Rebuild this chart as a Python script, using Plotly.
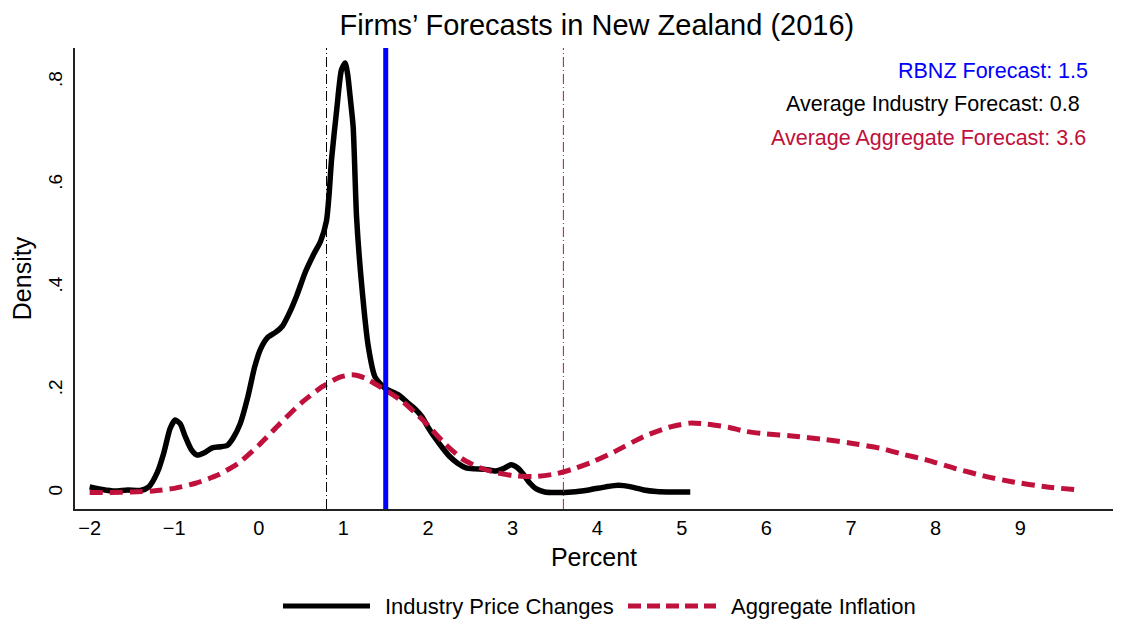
import plotly.graph_objects as go

# Kernel density of firms' industry price-change forecasts (percent)
industry_x = [-2.0, -1.85, -1.7, -1.55, -1.4, -1.3, -1.2, -1.12, -1.05, -0.99, -0.93, -0.87,
              -0.8, -0.73, -0.65, -0.55, -0.45, -0.37, -0.3, -0.22, -0.13, -0.05, 0.02, 0.1,
              0.2, 0.28, 0.36, 0.45, 0.55, 0.65, 0.73, 0.8, 0.83, 0.86, 0.92, 0.976, 1.02,
              1.05, 1.08, 1.115, 1.155, 1.214, 1.294, 1.373, 1.49, 1.65, 1.75, 1.85, 1.93,
              2.0, 2.08, 2.17, 2.25, 2.35, 2.45, 2.55, 2.68, 2.8, 2.9, 2.98, 3.05, 3.12, 3.2,
              3.28, 3.38, 3.5, 3.7, 3.9, 4.1, 4.25, 4.4, 4.55, 4.7, 4.9, 5.1]
industry_y = [0.012, 0.007, 0.004, 0.006, 0.005, 0.012, 0.04, 0.08, 0.125, 0.142, 0.135, 0.11,
              0.085, 0.074, 0.078, 0.088, 0.09, 0.093, 0.108, 0.135, 0.187, 0.245, 0.28, 0.302,
              0.313, 0.325, 0.35, 0.385, 0.43, 0.465, 0.49, 0.53, 0.58, 0.65, 0.745, 0.823, 0.837,
              0.815, 0.77, 0.713, 0.538, 0.408, 0.285, 0.226, 0.204, 0.191, 0.177, 0.163, 0.148,
              0.128, 0.108, 0.088, 0.072, 0.058, 0.049, 0.047, 0.046, 0.043, 0.048, 0.055, 0.05,
              0.038, 0.02, 0.008, 0.002, 0.001, 0.002, 0.006, 0.012, 0.015, 0.012, 0.006, 0.003,
              0.002, 0.002]

# Kernel density of firms' aggregate inflation forecasts (percent)
aggregate_x = [-2.0, -1.75, -1.5, -1.25, -1.0, -0.75, -0.5, -0.25, 0.0, 0.25, 0.5, 0.75, 0.95,
               1.1, 1.25, 1.45, 1.7, 1.95, 2.2, 2.4, 2.6, 2.8, 3.0, 3.25, 3.5, 3.7, 3.95, 4.2,
               4.55, 4.85, 5.1, 5.3, 5.55, 5.75, 6.0, 6.3, 6.7, 7.0, 7.35, 7.6, 7.9, 8.25, 8.6,
               8.9, 9.3, 9.7]
aggregate_y = [0.001, 0.001, 0.002, 0.004, 0.009, 0.019, 0.034, 0.057, 0.093, 0.135, 0.175,
               0.207, 0.225, 0.23, 0.224, 0.205, 0.178, 0.14, 0.096, 0.067, 0.05, 0.04, 0.034,
               0.032, 0.037, 0.046, 0.061, 0.08, 0.11, 0.128, 0.136, 0.134, 0.128, 0.12, 0.115,
               0.111, 0.104, 0.097, 0.087, 0.076, 0.064, 0.047, 0.032, 0.022, 0.012, 0.006]

# Reference forecasts
rbnz_forecast = 1.5
industry_avg = 0.8
aggregate_avg = 3.6

x_ticks = [-2, -1, 0, 1, 2, 3, 4, 5, 6, 7, 8, 9]
x_tick_text = ["\u22122", "\u22121", "0", "1", "2", "3", "4", "5", "6", "7", "8", "9"]
y_ticks = [0, 0.2, 0.4, 0.6, 0.8]
y_tick_text = ["0", ".2", ".4", ".6", ".8"]

RED = "#C0103C"
BLUE = "#0000FF"
FONT = "Liberation Sans, Arial, Helvetica, sans-serif"

W, H = 1121, 623
L, R, T, B = 75, 8, 48, 114
PW, PH = W - L - R, H - T - B


def px(x):
    return (x - L) / PW


def py(y):
    return (H - B - y) / PH


fig = go.Figure()

fig.add_trace(go.Scatter(
    x=industry_x, y=industry_y, mode="lines", name="Industry Price Changes",
    line=dict(color="black", width=5.5, shape="spline", smoothing=0.6),
    showlegend=False, hoverinfo="skip"))
fig.add_trace(go.Scatter(
    x=aggregate_x, y=aggregate_y, mode="lines", name="Aggregate Inflation",
    line=dict(color=RED, width=5, dash="13px,7px", shape="spline", smoothing=0.6),
    showlegend=False, hoverinfo="skip"))

# Vertical reference lines
fig.add_shape(type="line", xref="x", yref="paper", x0=industry_avg, x1=industry_avg, y0=0, y1=1,
              line=dict(color="black", width=1, dash="10px,3px,1px,3px"))
fig.add_shape(type="line", xref="x", yref="paper", x0=aggregate_avg, x1=aggregate_avg, y0=0, y1=1,
              line=dict(color=RED, width=1, dash="10px,3px,1px,3px"))
fig.add_shape(type="line", xref="x", yref="paper", x0=rbnz_forecast, x1=rbnz_forecast, y0=0, y1=1,
              line=dict(color=BLUE, width=5))

# Forecast labels
labels = [
    (f"RBNZ Forecast: {rbnz_forecast}", BLUE, 1090, 71),
    (f"Average Industry Forecast: {industry_avg}", "black", 1082, 104),
    (f"Average Aggregate Forecast: {aggregate_avg}", RED, 1088, 138),
]
for text, color, xr, yc in labels:
    fig.add_annotation(text=text, xref="paper", yref="paper", x=px(xr), y=py(yc),
                       xanchor="right", yanchor="middle", showarrow=False,
                       font=dict(size=21.5, color=color, family=FONT))

# Legend drawn below the axis
fig.add_shape(type="line", xref="paper", yref="paper", x0=px(283), x1=px(370),
              y0=py(606), y1=py(606), line=dict(color="black", width=5))
fig.add_annotation(text="Industry Price Changes", xref="paper", yref="paper",
                   x=px(383), y=py(606), xanchor="left", yanchor="middle", showarrow=False,
                   font=dict(size=22, color="black", family=FONT))
fig.add_shape(type="line", xref="paper", yref="paper", x0=px(628), x1=px(716),
              y0=py(606), y1=py(606), line=dict(color=RED, width=5, dash="13px,6px"))
fig.add_annotation(text="Aggregate Inflation", xref="paper", yref="paper",
                   x=px(729), y=py(606), xanchor="left", yanchor="middle", showarrow=False,
                   font=dict(size=22, color="black", family=FONT))

fig.update_layout(
    width=W, height=H,
    margin=dict(l=L, r=R, t=T, b=B),
    paper_bgcolor="white", plot_bgcolor="white",
    font=dict(family=FONT, color="black"),
    title=dict(text="Firms\u2019 Forecasts in New Zealand (2016)", x=0.5325, xanchor="center",
               y=1 - 25 / H, yanchor="middle", font=dict(size=29, color="black", family=FONT)),
    showlegend=False,
    xaxis=dict(range=[-2.173, 10.097], tickvals=x_ticks, ticktext=x_tick_text,
               showgrid=False, zeroline=False, showline=True, linecolor="#222", linewidth=1.5,
               ticks="", tickfont=dict(size=20),
               title=dict(text="Percent", font=dict(size=25), standoff=11)),
    yaxis=dict(range=[-0.0311, 0.866], tickvals=y_ticks, ticktext=y_tick_text, tickangle=-90,
               showgrid=False, zeroline=False, showline=True, linecolor="#222", linewidth=1.5,
               ticks="", tickfont=dict(size=19), ticklabelstandoff=4,
               title=dict(text="Density", font=dict(size=25), standoff=6)),
)

fig.write_html("out.html")
